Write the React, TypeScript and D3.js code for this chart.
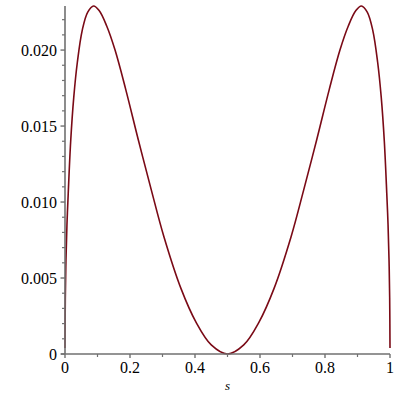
import React from "react";
import * as d3 from "d3";

// Curve samples (s, value)
const sValues = [
  0, 0.001, 0.003, 0.006, 0.01, 0.0175, 0.027, 0.038, 0.053, 0.07, 0.088, 0.105,
  0.128, 0.154, 0.187, 0.2255, 0.2655, 0.3046, 0.357, 0.403, 0.45, 0.5,
  0.55, 0.597, 0.643, 0.6954, 0.7345, 0.7745, 0.813, 0.846, 0.872, 0.895,
  0.912, 0.93, 0.947, 0.962, 0.973, 0.9825, 0.99, 0.994, 0.997, 0.999, 1,
];
const fValues = [
  0.0004, 0.0037, 0.0062, 0.0085, 0.0106, 0.014, 0.0169, 0.0192, 0.0213, 0.0225, 0.0229, 0.0226,
  0.0216, 0.02, 0.0174, 0.0141, 0.0108, 0.0077, 0.0043, 0.0021, 0.0006, 0,
  0.0006, 0.0021, 0.0043, 0.0077, 0.0108, 0.0141, 0.0174, 0.02, 0.0216, 0.0226,
  0.0229, 0.0225, 0.0213, 0.0192, 0.0169, 0.014, 0.0106, 0.0085, 0.0062, 0.0037, 0.0004,
];

const xMajorTicks = [0, 0.2, 0.4, 0.6, 0.8, 1];
const xMajorLabels = ["0", "0.2", "0.4", "0.6", "0.8", "1"];
const xMinorTicks = [0.1, 0.3, 0.5, 0.7, 0.9];
const yMajorTicks = [0, 0.005, 0.01, 0.015, 0.02];
const yMajorLabels = ["0", "0.005", "0.010", "0.015", "0.020"];
const yMinorTicks = [
  0.001, 0.002, 0.003, 0.004, 0.006, 0.007, 0.008, 0.009, 0.011, 0.012, 0.013, 0.014,
  0.016, 0.017, 0.018, 0.019, 0.021, 0.022,
];
const xLabel = "s";

export default function App() {
  const x = d3.scaleLinear().domain([0, 1]).range([65, 390]);
  const y = d3.scaleLinear().domain([0, 0.0229]).range([354, 6]);
  const data = sValues.map((s, i) => [s, fValues[i]] as [number, number]);
  const line = d3
    .line<[number, number]>()
    .x((d) => x(d[0]))
    .y((d) => y(d[1]))
    .curve(d3.curveCatmullRom.alpha(0.5));
  const axisColor = "#707070";
  const font = "Liberation Serif";
  return (
    <svg
      width={400}
      height={400}
      style={{ position: "absolute", left: 0, top: 0, background: "#fff" }}
    >
      <path d={line(data) || ""} fill="none" stroke="#7a0a16" strokeWidth={1.6} />
      {/* axes */}
      <line x1={x(0)} x2={x(0)} y1={y(0)} y2={y(0.0229)} stroke={axisColor} strokeWidth={1.6} />
      <line x1={x(0) - 4} x2={x(1)} y1={y(0)} y2={y(0)} stroke={axisColor} strokeWidth={1.6} />
      {yMajorTicks.map((t) => (
        <line key={"ym" + t} x1={x(0) - 4.5} x2={x(0)} y1={y(t)} y2={y(t)} stroke={axisColor} strokeWidth={1.4} />
      ))}
      {yMinorTicks.map((t) => (
        <line key={"yn" + t} x1={x(0) - 3} x2={x(0)} y1={y(t)} y2={y(t)} stroke={axisColor} strokeWidth={1.2} />
      ))}
      {xMajorTicks.map((t) => (
        <line key={"xm" + t} x1={x(t)} x2={x(t)} y1={y(0)} y2={y(0) + 4} stroke={axisColor} strokeWidth={1.4} />
      ))}
      {xMinorTicks.map((t) => (
        <line key={"xn" + t} x1={x(t)} x2={x(t)} y1={y(0)} y2={y(0) + 3} stroke={axisColor} strokeWidth={1.2} />
      ))}
      {yMajorTicks.map((t, i) => (
        <text key={"yl" + t} x={57} y={y(t) + 5.5} textAnchor="end" fontFamily={font} fontSize={16} fill="#000">
          {yMajorLabels[i]}
        </text>
      ))}
      {xMajorTicks.map((t, i) => (
        <text key={"xl" + t} x={x(t)} y={373} textAnchor="middle" fontFamily={font} fontSize={16} fill="#000">
          {xMajorLabels[i]}
        </text>
      ))}
      <text x={x(0.5)} y={390} textAnchor="middle" fontFamily={font} fontSize={13} fontStyle="italic" fill="#000">
        {xLabel}
      </text>
    </svg>
  );
}
